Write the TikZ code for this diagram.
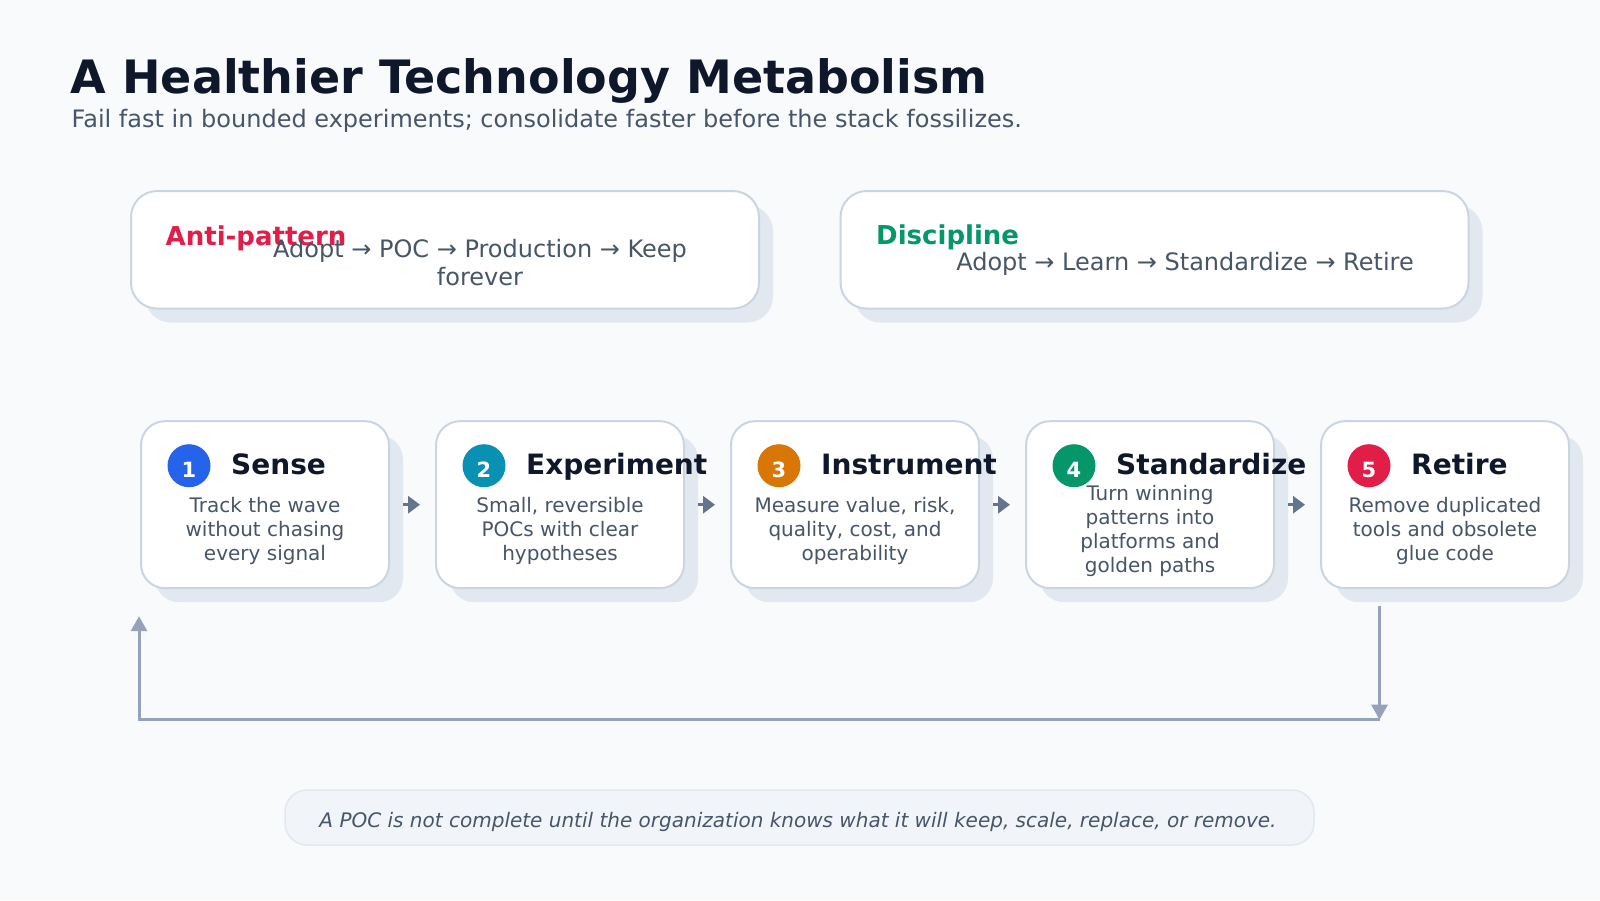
\documentclass[tikz,border=0pt]{standalone}
\usepackage{fontspec}
\setmainfont{DejaVu Sans}[ItalicFont={DejaVu Sans Oblique},BoldFont={DejaVu Sans Bold},BoldItalicFont={DejaVu Sans Bold Oblique}]
\usetikzlibrary{arrows.meta,shadows,calc}
\definecolor{bgc}{HTML}{F8FAFC}
\definecolor{titlec}{HTML}{0F172A}
\definecolor{textc}{HTML}{475569}
\definecolor{borderc}{HTML}{CBD5E1}
\definecolor{shadowc}{HTML}{E2E8F0}
\definecolor{crimsonc}{HTML}{E11D48}
\definecolor{greenc}{HTML}{059669}
\definecolor{bluec}{HTML}{2563EB}
\definecolor{cyanc}{HTML}{0891B2}
\definecolor{orangec}{HTML}{D97706}
\definecolor{redc}{HTML}{E11D48}
\definecolor{arrowc}{HTML}{64748B}
\definecolor{loopc}{HTML}{94A3B8}
\definecolor{notefill}{HTML}{F1F5F9}
\definecolor{noteborder}{HTML}{E2E8F0}
\tikzset{
  card/.style={draw=borderc, line width=2pt, fill=white, rounded corners=24pt,
    drop shadow={shadow xshift=14pt, shadow yshift=-14pt, fill=shadowc, opacity=1}},
  stepbox/.style={card, minimum width=248pt, minimum height=167pt, inner sep=0pt},
  topbox/.style={card, rounded corners=26pt, minimum width=628pt, minimum height=117.5pt, inner sep=0pt},
  numdot/.style={circle, minimum size=43pt, inner sep=0pt},
  numtxt/.style={text=white, font=\fontsize{21}{25}\selectfont\bfseries, inner sep=0pt},
  steptitle/.style={text=titlec, font=\fontsize{28}{33}\selectfont\bfseries, inner sep=0pt, anchor=base west},
  stepdesc/.style={text=textc, font=\fontsize{20}{24.2}\selectfont, align=center, inner sep=0pt},
  flowarrow/.style={draw=arrowc, line width=3.5pt, -{Triangle[length=12pt,width=17pt]}},
  looparrow/.style={draw=loopc, line width=3pt, -{Triangle[length=15pt,width=16pt]}},
}
\begin{document}
\begin{tikzpicture}[x=1pt,y=-1pt]
\fill[bgc] (0,0) rectangle (1600,900);
\useasboundingbox (0,0) rectangle (1600,900);

% title
\node[anchor=base west, inner sep=0pt, text=titlec, font=\fontsize{46}{55}\selectfont\bfseries] (title) at (70.5,93.3) {A Healthier Technology Metabolism};
\node[anchor=base west, inner sep=0pt, text=textc, font=\fontsize{24}{29}\selectfont] (subtitle) at (71.5,127.3) {Fail fast in bounded experiments; consolidate faster before the stack fossilizes.};

% top cards
\node[topbox] (anti) at (445,249.8) {};
\node[topbox] (disc) at (1154.5,249.8) {};
\node[anchor=base west, inner sep=0pt, text=crimsonc, font=\fontsize{26}{31}\selectfont\bfseries] (antilabel) at (165.5,245) {Anti-pattern};
\node[anchor=north, inner sep=0pt, align=center, text=textc, font=\fontsize{24}{27.7}\selectfont] (antibody) at (480,239) {Adopt → POC → Production → Keep\\forever};
\node[anchor=base west, inner sep=0pt, text=greenc, font=\fontsize{26}{31}\selectfont\bfseries] (disclabel) at (876,244.3) {Discipline};
\node[anchor=base, inner sep=0pt, text=textc, font=\fontsize{24}{27.7}\selectfont] (discbody) at (1185,270.7) {Adopt → Learn → Standardize → Retire};

% steps
\foreach \i/\c/\t/\d in {
  1/bluec/Sense/{Track the wave\\without chasing\\every signal},
  2/cyanc/Experiment/{Small, reversible\\POCs with clear\\hypotheses},
  3/orangec/Instrument/{Measure value, risk,\\quality, cost, and\\operability},
  4/greenc/Standardize/{Turn winning\\patterns into\\platforms and\\golden paths},
  5/redc/Retire/{Remove duplicated\\tools and obsolete\\glue code}}{
  \pgfmathsetmacro{\cx}{265+295*(\i-1)}
  \node[stepbox] (s\i) at (\cx,504.7) {};
  \node[numdot, fill=\c] (n\i) at (\cx-76,465.7) {};
  \node[numtxt] (nt\i) at (\cx-76,469.7) {\i};
  \node[steptitle] (t\i) at (\cx-34,474) {\t};
  \node[stepdesc] (d\i) at (\cx,531) {\d};
}

% flow arrows
\foreach \a/\b in {1/2,2/3,3/4,4/5}{
  \draw[flowarrow] ([xshift=13pt]s\a.east) -- ([xshift=-15pt]s\b.west);
}

% loop back
\coordinate (loopA) at ($(s5.south west)+(59.5,16.5)$);
\coordinate (loopB) at ($(s5.south west)+(59.5,130.5)$);
\coordinate (loopC) at ($(s1.south west)+(-1,130.5)$);
\coordinate (loopD) at ($(s1.south west)+(-1,27)$);
\draw[looparrow] (loopA) -- (loopB);
\draw[looparrow] (loopB) -- (loopC) -- (loopD);

% note
\node[draw=noteborder, line width=1.5pt, fill=notefill, rounded corners=22pt, minimum width=1029pt, minimum height=55pt, inner sep=0pt] (note) at (799.5,817.5) {};
\node[anchor=base, inner sep=0pt, text=textc, font=\fontsize{20}{24}\selectfont\itshape] (notetext) at (798,827.3) {A POC is not complete until the organization knows what it will keep, scale, replace, or remove.};
\end{tikzpicture}
\end{document}
